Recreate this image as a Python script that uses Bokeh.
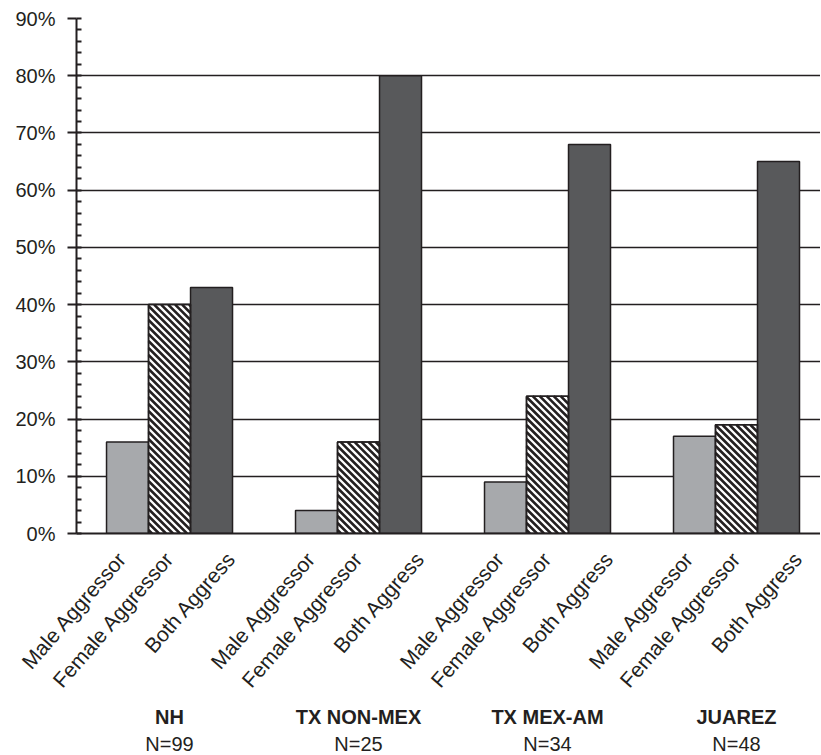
import math
from bokeh.plotting import figure
from bokeh.models import (ColumnDataSource, Range1d, FixedTicker, LinearAxis,
                          PrintfTickFormatter)
from bokeh.embed import file_html
from bokeh.resources import INLINE

# ---- data ----
groups = ["NH", "TX NON-MEX", "TX MEX-AM", "JUAREZ"]
group_n = ["N=99", "N=25", "N=34", "N=48"]
subs = ["Male Aggressor", "Female Aggressor", "Both Aggress"]
male = [16, 4, 9, 17]
female = [40, 16, 24, 19]
both = [43, 80, 68, 65]
y_ticks = [0, 10, 20, 30, 40, 50, 60, 70, 80, 90]

# ---- layout (positions in half-bar units) ----
GROUP_STEP = 9
SUB_STEP = 2
BAR_W = 2
LABEL_SHIFT = [-0.25, 0.0, 0.9375]   # where each rotated label ends, relative to its bar
FRAME_W, FRAME_H = 744, 515
X0, X1 = -2.43, 33.0
Y0, Y1 = 0, 90
PX_X = FRAME_W / (X1 - X0)   # pixels per x unit
PX_Y = FRAME_H / (Y1 - Y0)   # pixels per y unit
HATCH_STEP = 7               # horizontal period of the 45 degree hatch, px

INK = "#231f20"
FONT = "Liberation Sans"

def centers(sub_index):
    return [g * GROUP_STEP + sub_index * SUB_STEP for g in range(len(groups))]

p = figure(
    frame_width=FRAME_W, frame_height=FRAME_H,
    x_range=Range1d(X0, X1), y_range=Range1d(Y0, Y1),
    output_backend="svg", toolbar_location=None,
    min_border_left=76, min_border_right=0, min_border_top=18, min_border_bottom=0,
    x_axis_location=None,
)
p.outline_line_color = None
p.background_fill_color = "white"
p.border_fill_color = "white"

# grid
p.xgrid.grid_line_color = None
p.ygrid.grid_line_color = INK
p.ygrid.grid_line_width = 1.5
p.ygrid.ticker = FixedTicker(ticks=y_ticks)

series = [male, female, both]
fills = ["#a7a9ac", "white", "#58595b"]
for i, vals in enumerate(series):
    src = ColumnDataSource(dict(x=centers(i), top=vals))
    p.vbar(x="x", top="top", width=BAR_W, bottom=0, source=src,
           fill_color=fills[i], line_color=INK, line_width=1.5)

# 45-degree hatch inside the female bars, derived from their values
hx, hy = [], []
for xc, top in zip(centers(1), female):
    w_px = BAR_W * PX_X
    h_px = top * PX_Y
    left = xc - BAR_W / 2
    c = HATCH_STEP / 2
    while c < w_px + h_px:
        xa = max(0.0, c - h_px)
        xb = min(w_px, c)
        hx.append([left + xa / PX_X, left + xb / PX_X])
        hy.append([(c - xa) / PX_Y, (c - xb) / PX_Y])
        c += HATCH_STEP
p.multi_line(xs=hx, ys=hy, line_color=INK, line_width=2.6)
p.vbar(x=centers(1), top=female, width=BAR_W, bottom=0,
       fill_color=None, line_color=INK, line_width=1.5)

# y axis
ya = p.yaxis[0]
ya.ticker = FixedTicker(ticks=y_ticks, minor_ticks=list(range(0, 91, 2)))
ya.formatter = PrintfTickFormatter(format="%d%%")
ya.axis_line_color = INK
ya.axis_line_width = 2
ya.major_tick_line_color = INK
ya.major_tick_line_width = 2
ya.major_tick_out = 9
ya.major_tick_in = 0
ya.minor_tick_line_color = INK
ya.minor_tick_line_width = 2
ya.minor_tick_in = 5
ya.minor_tick_out = 0
ya.major_label_standoff = 12
ya.major_label_text_font = FONT
ya.major_label_text_font_size = "20px"
ya.major_label_text_color = INK

# x axis 1: rotated series labels
label_pos = []
overrides1 = {}
for g in range(len(groups)):
    for s in range(len(subs)):
        c = g * GROUP_STEP + s * SUB_STEP + LABEL_SHIFT[s]
        label_pos.append(c)
        overrides1[c] = subs[s]
xa1 = LinearAxis(ticker=FixedTicker(ticks=label_pos), major_label_overrides=overrides1)
xa1.axis_line_color = INK
xa1.axis_line_width = 2
xa1.major_tick_line_color = None
xa1.minor_tick_line_color = None
xa1.major_label_orientation = 49 * math.pi / 180
xa1.major_label_standoff = 15
xa1.major_label_text_font = FONT
xa1.major_label_text_font_size = "21px"
xa1.major_label_text_color = INK
p.add_layout(xa1, "below")

# x axis 2: group names
gcent = [g * GROUP_STEP + SUB_STEP for g in range(len(groups))]
xa2 = LinearAxis(ticker=FixedTicker(ticks=gcent),
                 major_label_overrides={c: groups[i] for i, c in enumerate(gcent)})
xa2.axis_line_color = None
xa2.major_tick_line_color = None
xa2.minor_tick_line_color = None
xa2.major_label_standoff = -3
xa2.major_label_text_font = FONT
xa2.major_label_text_font_size = "20px"
xa2.major_label_text_font_style = "bold"
xa2.major_label_text_color = INK
p.add_layout(xa2, "below")

# x axis 3: sample sizes
xa3 = LinearAxis(ticker=FixedTicker(ticks=gcent),
                 major_label_overrides={c: group_n[i] for i, c in enumerate(gcent)})
xa3.axis_line_color = None
xa3.major_tick_line_color = None
xa3.minor_tick_line_color = None
xa3.major_label_standoff = -4
xa3.major_label_text_font = FONT
xa3.major_label_text_font_size = "20px"
xa3.major_label_text_color = INK
p.add_layout(xa3, "below")

open("out.html", "w").write(file_html(p, INLINE))
